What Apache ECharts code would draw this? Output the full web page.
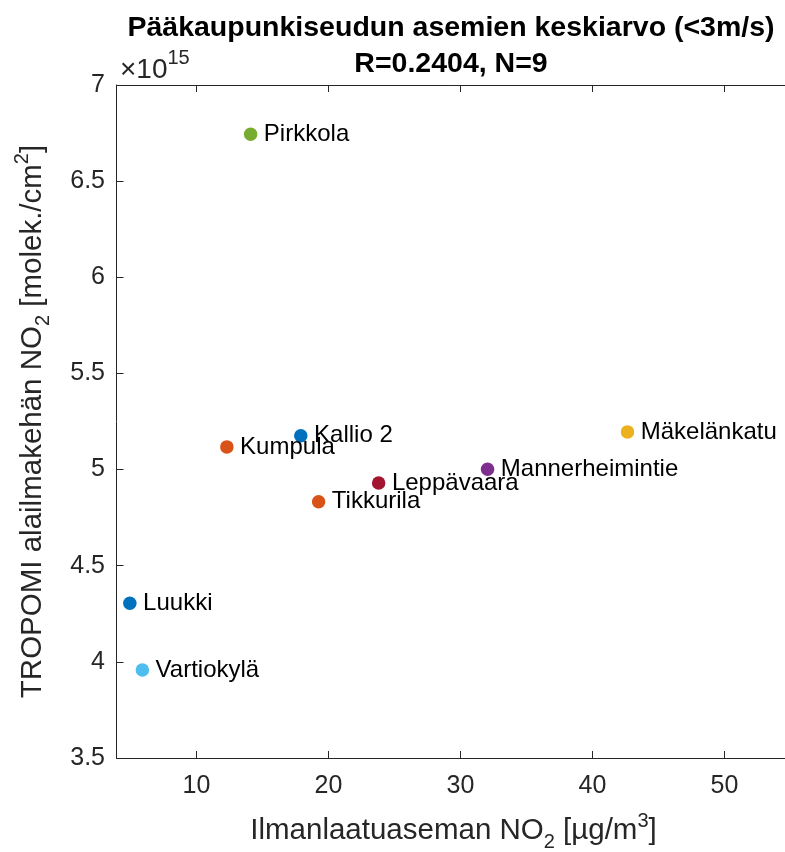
<!DOCTYPE html>
<html>
<head>
<meta charset="utf-8">
<script src="https://cdn.jsdelivr.net/npm/echarts@6/dist/echarts.min.js"></script>
<style>
  html, body { margin: 0; padding: 0; background: #ffffff; }
  #chart { width: 785px; height: 852px; }
</style>
</head>
<body>
<div id="chart"></div>
<script>
// Station names and their mean NO2 values (wind speed < 3 m/s)
const stations = ['Luukki', 'Kumpula', 'Mäkelänkatu', 'Mannerheimintie', 'Pirkkola',
                  'Vartiokylä', 'Leppävaara', 'Kallio 2', 'Tikkurila'];
// Ground station NO2 [µg/m3]
const groundNO2 = [4.95, 12.3, 42.65, 32.05, 14.1, 5.9, 23.8, 17.9, 19.25];
// TROPOMI tropospheric NO2 column, in units of 1e15 molec./cm2
const tropomiNO2 = [4.305, 5.118, 5.196, 5.002, 6.744, 3.958, 4.930, 5.176, 4.833];
// Marker colours (MATLAB default colour order)
const colors = ['#0072BD', '#D95319', '#EDB120', '#7E2F8E', '#77AC30',
                '#4DBEEE', '#A2142F', '#0072BD', '#D95319'];
// Axis ticks
const xTicks = [10, 20, 30, 40, 50];
const yTicks = [3.5, 4, 4.5, 5, 5.5, 6, 6.5, 7];

const FONT = 'Liberation Sans, Arial, Helvetica, sans-serif';
const AX = '#262626';

const chart = echarts.init(document.getElementById('chart'), null, { renderer: 'canvas' });

const points = stations.map((name, i) => ({
  name: name,
  value: [groundNO2[i], tropomiNO2[i]],
  itemStyle: { color: colors[i], opacity: 1 }
}));

// Rich-text styles for sub- and superscripts in axis titles
const subSup = {
  sub: { fontSize: 20, fontFamily: FONT, color: AX, padding: [22, 0, 0, 0] },
  sup: { fontSize: 20, fontFamily: FONT, color: AX, padding: [0, 0, 20, 0] }
};

chart.setOption({
  backgroundColor: '#ffffff',
  animation: false,
  title: {
    text: 'Pääkaupunkiseudun asemien keskiarvo (<3m/s)',
    subtext: 'R=0.2404, N=9',
    left: 451,
    top: 14,
    textAlign: 'center',
    padding: 0,
    itemGap: 7,
    textStyle: { fontFamily: FONT, fontWeight: 'bold', fontSize: 28.5, color: '#000' },
    subtextStyle: { fontFamily: FONT, fontWeight: 'bold', fontSize: 28.5, color: '#000' }
  },
  grid: { left: 116.5, width: 674, top: 85, bottom: 94, containLabel: false, outerBoundsMode: 'none' },
  xAxis: [{
    type: 'value',
    min: 3.94,
    max: 55,
    position: 'bottom',
    name: 'Ilmanlaatuaseman NO{sub|2} [µg/m{sup|3}]',
    nameLocation: 'middle',
    nameGap: 52,
    nameTextStyle: { fontFamily: FONT, fontSize: 29.5, color: AX, rich: subSup },
    axisLine: { show: true, onZero: false, lineStyle: { color: AX, width: 1 } },
    axisTick: { show: true, inside: true, length: 7, customValues: xTicks, lineStyle: { color: AX } },
    axisLabel: { customValues: xTicks, fontFamily: FONT, fontSize: 25, color: AX, margin: 16 },
    splitLine: { show: false }
  }, {
    type: 'value',
    min: 3.94,
    max: 55,
    position: 'top',
    axisLine: { show: true, onZero: false, lineStyle: { color: AX, width: 1 } },
    axisTick: { show: true, inside: true, length: 7, customValues: xTicks, lineStyle: { color: AX } },
    axisLabel: { show: false },
    splitLine: { show: false }
  }],
  yAxis: [{
    type: 'value',
    min: yTicks[0],
    max: yTicks[yTicks.length - 1],
    interval: 0.5,
    position: 'left',
    name: 'TROPOMI alailmakehän NO{sub|2} [molek./cm{sup|2}]',
    nameLocation: 'middle',
    nameGap: 63,
    nameTextStyle: { fontFamily: FONT, fontSize: 29.5, color: AX, rich: subSup },
    axisLine: { show: true, onZero: false, lineStyle: { color: AX, width: 1 } },
    axisTick: { show: true, inside: true, length: 7, lineStyle: { color: AX } },
    axisLabel: { fontFamily: FONT, fontSize: 25, color: AX, margin: 11.5,
                 formatter: v => String(Math.round(v * 10) / 10) },
    splitLine: { show: false }
  }],
  graphic: [{
    // exponent of the y axis scale
    type: 'text',
    left: 120,
    top: 48,
    style: {
      text: '×10{sup|15}',
      font: '28px ' + FONT,
      fill: AX,
      rich: { sup: { fontSize: 20, fontFamily: FONT, fill: AX, padding: [0, 0, 24, 0] } }
    }
  }],
  series: [{
    type: 'scatter',
    xAxisIndex: 0,
    yAxisIndex: 0,
    symbol: 'circle',
    symbolSize: 13.5,
    data: points,
    label: {
      show: true,
      position: 'right',
      distance: 6.5,
      formatter: p => p.name,
      fontFamily: FONT,
      fontSize: 24,
      color: '#000'
    },
    labelLayout: { hideOverlap: false },
    emphasis: { disabled: true }
  }]
});
</script>
</body>
</html>
